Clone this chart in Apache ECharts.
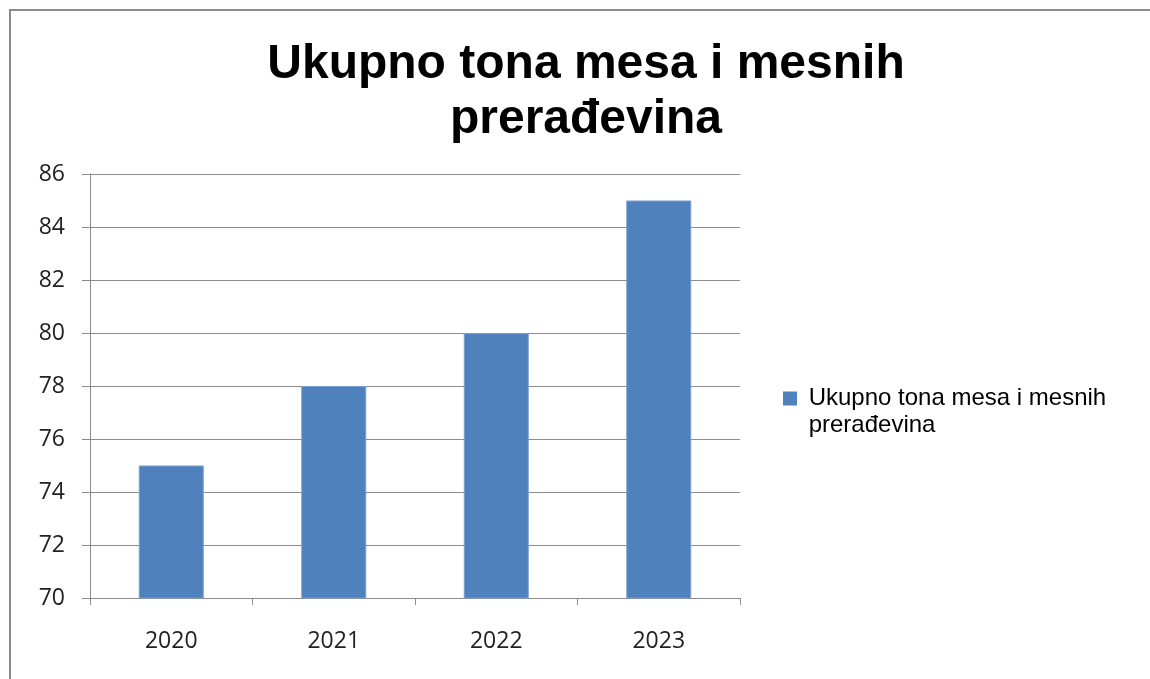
<!DOCTYPE html>
<html>
<head>
<meta charset="utf-8">
<script src="https://cdn.jsdelivr.net/npm/echarts@6/dist/echarts.min.js"></script>
<style>
  html, body { margin: 0; padding: 0; background: #fff; }
  #chart { width: 1150px; height: 679px; }
</style>
</head>
<body>
<div id="chart"></div>
<script>
// podaci
const seriesName = 'Ukupno tona mesa i mesnih prerađevina'
const years = ['2020', '2021', '2022', '2023']
const tons = [75, 78, 80, 85]

let mychart = echarts.init(document.getElementById('chart'))

mychart.setOption({
    animation: false,
    graphic: [{
        // okvir grafikona
        type: 'rect',
        shape: { x: 10, y: 10, width: 1300, height: 800 },
        style: { fill: 'none', stroke: '#8c8c8c', lineWidth: 2 }
    }],
    title: {
        text: 'Ukupno tona mesa i mesnih\nprerađevina',
        left: 581,
        top: 32,
        textAlign: 'center',
        textStyle: {
            fontFamily: 'Liberation Sans',
            fontSize: 48,
            fontWeight: 'bold',
            lineHeight: 55,
            color: '#000'
        }
    },
    legend: {
        left: 783,
        top: 358,
        padding: 0,
        itemWidth: 14,
        itemHeight: 14,
        icon: 'rect',
        itemStyle: { borderWidth: 0 },
        // prazan red na vrhu da prvi red bude u visini kvadratica
        formatter: () => '\n Ukupno tona mesa i mesnih\n prerađevina',
        textStyle: {
            fontFamily: 'Liberation Sans',
            fontSize: 24,
            lineHeight: 27,
            color: '#000'
        }
    },
    grid: {
        left: 90,
        right: 410,
        top: 174,
        bottom: 81
    },
    xAxis: {
        type: 'category',
        data: years,
        axisLine: { lineStyle: { color: '#8c8c8c', width: 1 } },
        axisTick: { show: true, length: 7, lineStyle: { color: '#8c8c8c' } },
        axisLabel: {
            margin: 32,
            fontFamily: 'Open Sans',
            fontSize: 23,
            color: '#222'
        }
    },
    yAxis: {
        type: 'value',
        min: 70,
        max: 86,
        interval: 2,
        axisLine: { show: true, lineStyle: { color: '#8c8c8c', width: 1 } },
        axisTick: { show: true, length: 8, lineStyle: { color: '#8c8c8c' } },
        splitLine: { lineStyle: { color: '#8c8c8c', width: 1 } },
        axisLabel: {
            margin: 25,
            fontFamily: 'Open Sans',
            fontSize: 23,
            color: '#222'
        }
    },
    series: [{
        name: seriesName,
        type: 'bar',
        data: tons,
        barWidth: '40%',
        itemStyle: {
            color: '#4f81bd',
            borderColor: '#7a9fd0',
            borderWidth: 1
        }
    }]
})
</script>
</body>
</html>
